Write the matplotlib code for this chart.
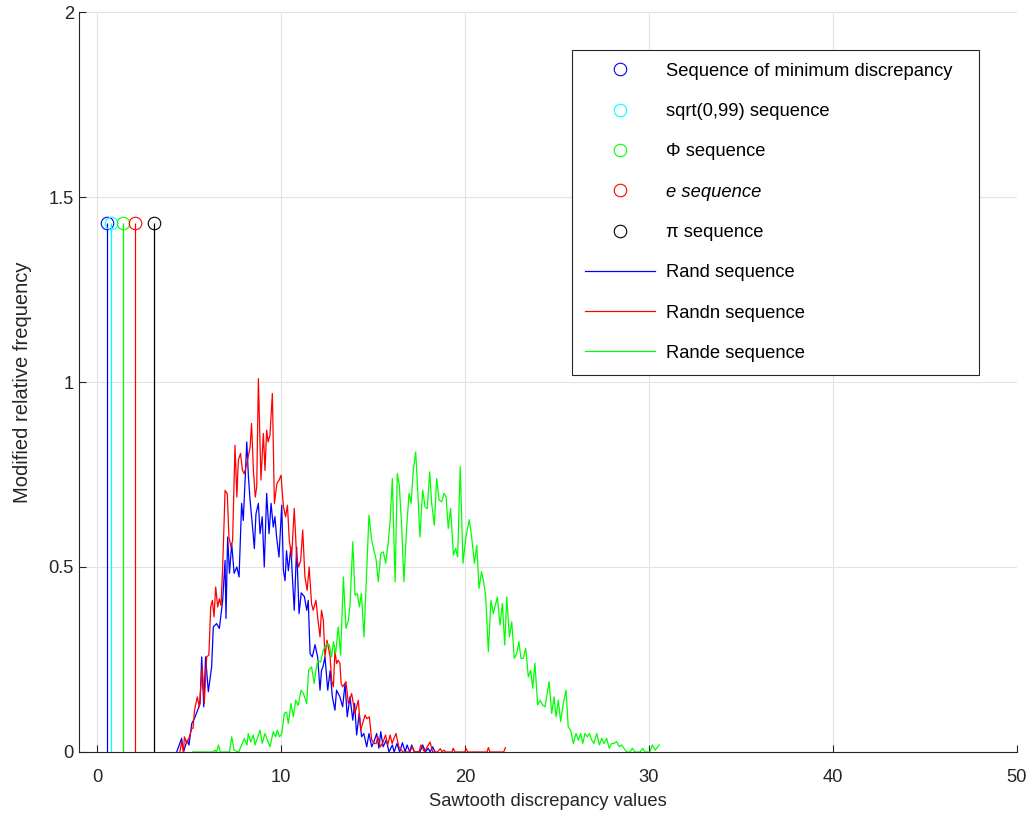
import matplotlib
matplotlib.use("Agg")
import matplotlib.pyplot as plt
from matplotlib.lines import Line2D

plt.rcParams['font.family'] = ['Liberation Sans', 'DejaVu Sans']

# discrepancy of the deterministic sequences (stems)
stem_x = [0.53, 0.78, 1.39, 2.08, 3.08]
stem_y = [1.43, 1.43, 1.43, 1.43, 1.43]
stem_colors = ['#0000ff', '#00ffff', '#00ff00', '#ff0000', '#000000']
stem_labels = ['Sequence of minimum discrepancy', 'sqrt(0,99) sequence',
               '\u03a6 sequence', 'e sequence', '\u03c0 sequence']

# Rand sequence histogram
rand_x = [4.33, 4.6, 4.7, 4.9, 5.0, 5.15, 5.3, 5.4, 5.6, 5.69, 5.8, 5.9, 6.05, 6.23,
          6.32, 6.5, 6.65, 6.83, 6.96, 7.01, 7.1, 7.2, 7.32, 7.45, 7.6, 7.72, 7.86,
          7.95, 8.14, 8.23, 8.32, 8.46, 8.55, 8.64, 8.77, 8.86, 8.98, 9.09, 9.22,
          9.35, 9.46, 9.58, 9.67, 9.76, 9.89, 10.04, 10.13, 10.22, 10.3, 10.4,
          10.54, 10.6, 10.72, 10.85, 10.98, 11.1, 11.27, 11.4, 11.48, 11.58, 11.7,
          11.85, 11.99, 12.12, 12.2, 12.28, 12.39, 12.54, 12.67, 12.79, 12.93,
          13.02, 13.2, 13.35, 13.48, 13.6, 13.75, 13.9, 14.0, 14.11, 14.25, 14.38,
          14.5, 14.66, 14.78, 14.93, 15.05, 15.2, 15.32, 15.42, 15.55, 15.72,
          15.87, 16.05, 16.15, 16.3, 16.45, 16.6, 16.75, 16.85, 17.0, 17.1, 17.25,
          17.55, 17.7, 17.85, 18.0, 18.1, 18.24, 18.37]
rand_y = [0.0, 0.037, 0.0, 0.032, 0.019, 0.077, 0.091, 0.104, 0.131, 0.257, 0.122,
          0.257, 0.163, 0.23, 0.338, 0.347, 0.334, 0.41, 0.518, 0.361, 0.581, 0.483,
          0.563, 0.483, 0.5, 0.473, 0.672, 0.626, 0.838, 0.743, 0.68, 0.604, 0.55,
          0.644, 0.672, 0.59, 0.636, 0.5, 0.699, 0.59, 0.672, 0.608, 0.636, 0.581,
          0.527, 0.667, 0.491, 0.463, 0.544, 0.49, 0.554, 0.49, 0.383, 0.554, 0.374,
          0.43, 0.42, 0.383, 0.41, 0.266, 0.257, 0.29, 0.257, 0.167, 0.22, 0.23,
          0.257, 0.167, 0.22, 0.149, 0.113, 0.167, 0.149, 0.122, 0.185, 0.095,
          0.149, 0.086, 0.131, 0.046, 0.104, 0.041, 0.05, 0.014, 0.05, 0.014,
          0.028, 0.05, 0.01, 0.055, 0.014, 0.032, 0.0, 0.019, 0.0, 0.023, 0.0,
          0.025, 0.0, 0.019, 0.0, 0.019, 0.0, 0.0, 0.019, 0.0, 0.01, 0.0, 0.014, 0.0]

# Randn sequence histogram
randn_x = [4.5, 4.6, 4.7, 4.75, 4.88, 5.02, 5.15, 5.22, 5.3, 5.45, 5.56, 5.72, 5.83,
           5.96, 6.08, 6.18, 6.27, 6.36, 6.45, 6.56, 6.65, 6.74, 6.83, 6.96, 7.08,
           7.17, 7.28, 7.37, 7.5, 7.6, 7.68, 7.8, 7.9, 8.0, 8.14, 8.32, 8.4, 8.5,
           8.6, 8.68, 8.77, 8.91, 9.04, 9.13, 9.22, 9.3, 9.4, 9.53, 9.64, 9.78, 9.9,
           10.0, 10.13, 10.25, 10.35, 10.45, 10.58, 10.72, 10.85, 10.96, 11.07,
           11.18, 11.3, 11.42, 11.53, 11.66, 11.75, 11.9, 11.99, 12.12, 12.2, 12.3,
           12.39, 12.5, 12.67, 12.75, 12.85, 12.93, 13.02, 13.1, 13.2, 13.27, 13.35,
           13.53, 13.66, 13.84, 14.02, 14.2, 14.33, 14.45, 14.57, 14.67, 14.8,
           14.93, 15.07, 15.17, 15.27, 15.4, 15.55, 15.68, 15.8, 15.93, 16.04,
           16.13, 16.25, 16.4, 16.63, 16.8, 17.0, 17.13, 17.25, 17.5, 17.6, 17.8,
           17.95, 18.1, 18.24, 18.5, 18.66, 18.75, 18.85, 18.95, 19.3, 19.36, 19.45,
           20.0, 20.05, 20.15, 21.2, 21.27, 21.35, 22.1, 22.2]
randn_y = [0.0, 0.028, 0.0, 0.041, 0.023, 0.041, 0.064, 0.064, 0.113, 0.149, 0.122,
           0.23, 0.131, 0.257, 0.262, 0.392, 0.41, 0.365, 0.446, 0.392, 0.414, 0.396,
           0.5, 0.707, 0.698, 0.581, 0.554, 0.572, 0.829, 0.689, 0.789, 0.807,
           0.762, 0.752, 0.779, 0.824, 0.888, 0.761, 0.689, 0.716, 1.009, 0.735,
           0.861, 0.761, 0.87, 0.838, 0.856, 0.969, 0.672, 0.726, 0.735, 0.748,
           0.663, 0.636, 0.667, 0.572, 0.527, 0.658, 0.527, 0.5, 0.518, 0.6, 0.473,
           0.437, 0.5, 0.401, 0.383, 0.41, 0.365, 0.311, 0.383, 0.356, 0.257, 0.302,
           0.257, 0.194, 0.176, 0.275, 0.239, 0.248, 0.24, 0.185, 0.176, 0.19,
           0.131, 0.158, 0.104, 0.14, 0.059, 0.08, 0.1, 0.09, 0.095, 0.032, 0.023,
           0.023, 0.041, 0.014, 0.027, 0.046, 0.019, 0.046, 0.023, 0.036, 0.05,
           0.014, 0.0, 0.0, 0.0, 0.014, 0.0, 0.0, 0.019, 0.0, 0.014, 0.027, 0.0,
           0.0, 0.009, 0.0, 0.005, 0.0, 0.0, 0.01, 0.0, 0.0, 0.01, 0.0, 0.0, 0.012,
           0.0, 0.0, 0.012]

# Rande sequence histogram
rande_x = [5.2, 6.3, 6.4, 6.5, 6.6, 6.7, 7.2, 7.32, 7.45, 7.7, 8.0, 8.15, 8.22, 8.35,
           8.5, 8.59, 8.86, 8.98, 9.13, 9.26, 9.4, 9.58, 9.7, 9.8, 9.92, 10.04,
           10.18, 10.3, 10.4, 10.54, 10.67, 10.8, 10.93, 11.09, 11.22, 11.4, 11.5,
           11.66, 11.8, 11.93, 12.0, 12.15, 12.3, 12.5, 12.63, 12.75, 12.85, 12.97,
           13.11, 13.24, 13.39, 13.53, 13.66, 13.75, 13.9, 14.02, 14.15, 14.26,
           14.37, 14.51, 14.66, 14.78, 14.93, 15.05, 15.16, 15.29, 15.42, 15.56,
           15.69, 15.83, 15.92, 16.05, 16.2, 16.32, 16.43, 16.56, 16.68, 16.83,
           16.96, 17.07, 17.19, 17.32, 17.43, 17.55, 17.7, 17.83, 17.95, 18.08,
           18.19, 18.33, 18.46, 18.59, 18.73, 18.86, 18.97, 19.09, 19.22, 19.37,
           19.49, 19.6, 19.74, 19.89, 20.05, 20.23, 20.36, 20.51, 20.64, 20.76,
           20.9, 21.01, 21.12, 21.27, 21.41, 21.54, 21.76, 21.9, 22.03, 22.16,
           22.27, 22.41, 22.54, 22.68, 22.81, 22.93, 23.04, 23.17, 23.3, 23.44,
           23.57, 23.68, 23.8, 23.95, 24.08, 24.22, 24.35, 24.57, 24.71, 24.84,
           24.95, 25.07, 25.2, 25.34, 25.49, 25.61, 25.74, 25.89, 26.03, 26.16,
           26.29, 26.4, 26.52, 26.65, 26.76, 26.89, 27.01, 27.16, 27.3, 27.43,
           27.55, 27.7, 27.84, 27.97, 28.1, 28.24, 28.39, 28.51, 28.64, 28.79,
           28.97, 29.09, 29.24, 29.51, 29.66, 29.78, 30.05, 30.18, 30.33, 30.56]
rande_y = [0.0, 0.0, 0.005, 0.0, 0.019, 0.0, 0.0, 0.041, 0.005, 0.0, 0.036, 0.019,
           0.05, 0.027, 0.046, 0.019, 0.059, 0.023, 0.05, 0.032, 0.014, 0.055, 0.041,
           0.059, 0.041, 0.05, 0.104, 0.108, 0.077, 0.131, 0.095, 0.14, 0.126,
           0.167, 0.158, 0.131, 0.221, 0.23, 0.185, 0.23, 0.248, 0.243, 0.275,
           0.293, 0.289, 0.257, 0.298, 0.266, 0.338, 0.262, 0.473, 0.334, 0.356,
           0.397, 0.568, 0.424, 0.428, 0.392, 0.428, 0.311, 0.491, 0.64, 0.572,
           0.545, 0.523, 0.46, 0.536, 0.541, 0.51, 0.568, 0.618, 0.739, 0.46, 0.753,
           0.721, 0.608, 0.46, 0.608, 0.699, 0.672, 0.762, 0.811, 0.708, 0.581,
           0.708, 0.662, 0.658, 0.757, 0.672, 0.613, 0.739, 0.681, 0.676, 0.699,
           0.69, 0.604, 0.658, 0.532, 0.55, 0.527, 0.771, 0.51, 0.581, 0.628,
           0.581, 0.51, 0.559, 0.442, 0.487, 0.46, 0.424, 0.271, 0.41, 0.374, 0.419,
           0.343, 0.401, 0.289, 0.419, 0.311, 0.352, 0.253, 0.266, 0.298, 0.253,
           0.253, 0.28, 0.203, 0.221, 0.172, 0.24, 0.127, 0.14, 0.127, 0.122, 0.19,
           0.104, 0.149, 0.095, 0.14, 0.082, 0.131, 0.167, 0.068, 0.059, 0.023,
           0.05, 0.032, 0.05, 0.023, 0.05, 0.041, 0.05, 0.032, 0.023, 0.05, 0.019,
           0.037, 0.023, 0.037, 0.01, 0.023, 0.023, 0.028, 0.014, 0.019, 0.01, 0.0,
           0.0, 0.01, 0.0, 0.0, 0.01, 0.0, 0.0, 0.019, 0.005, 0.019]

fs = 13.2

fig = plt.figure(figsize=(10.33, 8.18), dpi=100)
ax = fig.add_axes([0.0761, 0.0807, 0.9084, 0.9046])

for x, y, c in zip(stem_x, stem_y, stem_colors):
    ml, sl, bl = ax.stem([x], [y], linefmt='-', markerfmt='o', basefmt=' ')
    sl.set_color(c)
    sl.set_linewidth(0.9)
    ml.set_color(c)
    ml.set_markerfacecolor('none')
    ml.set_markersize(9)
    ml.set_markeredgewidth(0.8)

ax.plot(rand_x, rand_y, color='#0000ff', lw=0.9)
ax.plot(randn_x, randn_y, color='#ff0000', lw=0.9)
ax.plot(rande_x, rande_y, color='#00ff00', lw=0.9)

ax.set_xlim(-1, 50)
ax.set_ylim(0, 2)
ax.set_xticks([0, 10, 20, 30, 40, 50])
ax.set_yticks([0, 0.5, 1, 1.5, 2])
ax.set_yticklabels(['0', '0.5', '1', '1.5', '2'])
ax.grid(True, color='#e3e3e3', lw=0.8)
ax.set_axisbelow(True)
for s in ['top', 'right']:
    ax.spines[s].set_visible(False)
for s in ['left', 'bottom']:
    ax.spines[s].set_color('#262626')
    ax.spines[s].set_linewidth(0.8)
ax.tick_params(direction='in', length=5, width=0.8, color='#262626',
               labelcolor='#262626', labelsize=fs)
ax.tick_params(axis='x', pad=12)
ax.set_xlabel('Sawtooth discrepancy values', fontsize=fs, color='#262626',
              labelpad=5)
ax.set_ylabel('Modified relative frequency', fontsize=14.5, color='#262626',
              labelpad=12)

handles = [Line2D([], [], ls='none', marker='o', mfc='none', mec=c, ms=9, mew=0.8)
           for c in stem_colors]
handles += [Line2D([], [], color='#0000ff', lw=0.9),
            Line2D([], [], color='#ff0000', lw=0.9),
            Line2D([], [], color='#00ff00', lw=0.9)]
labels = stem_labels + ['Rand sequence', 'Randn sequence', 'Rande sequence']
top = 1 - 50 / 818
leg = ax.legend(handles, labels, loc='upper left', mode='expand',
                bbox_to_anchor=(572 / 1033, top - 0.01, 407 / 1033, 0.01),
                bbox_transform=fig.transFigure, borderaxespad=0,
                fontsize=fs, fancybox=False, framealpha=1,
                edgecolor='#262626', handlelength=3.8, handletextpad=0.6,
                borderpad=0.7, labelspacing=1.27)
leg.get_frame().set_linewidth(0.8)
leg.get_texts()[3].set_fontstyle('italic')

fig.savefig('out.png', dpi=100)
